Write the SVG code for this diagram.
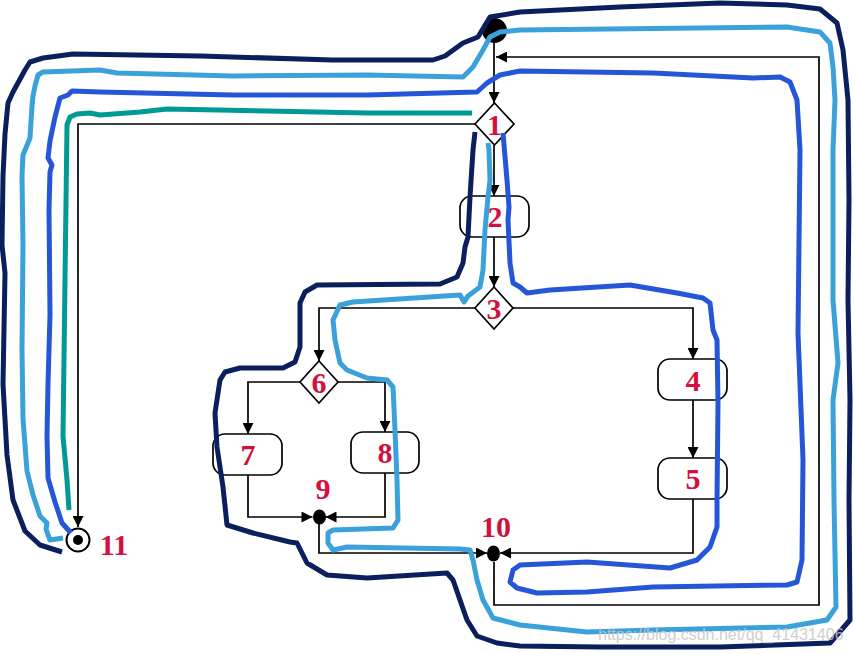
<svg xmlns="http://www.w3.org/2000/svg" width="854" height="654" viewBox="0 0 854 654">
<style>
.ln{fill:none;stroke:#000;stroke-width:1.7}
.nd{fill:#fff;stroke:#000;stroke-width:1.7}
.lb{font-family:"Liberation Serif","Times New Roman",serif;font-weight:bold;font-size:30px;fill:#d3103b;text-anchor:middle}
.pt{fill:none;stroke-width:5;stroke-linejoin:round;stroke-linecap:butt}
.navy{stroke:#0b1f5c}
.sky{stroke:#3aa1db}
.royal{stroke:#2556d8}
.teal{stroke:#009a94}
.wm{font-family:"Liberation Sans",Arial,sans-serif;font-size:16px;fill:#c8c8c8;opacity:0.85}
</style>
<defs>
<marker id="arr" viewBox="0 0 10 10" refX="10" refY="5" markerWidth="12" markerHeight="11" markerUnits="userSpaceOnUse" orient="auto">
<path d="M0,0 L10,5 L0,10 z" fill="#000"/>
</marker>
</defs>
<rect width="854" height="654" fill="#fff"/>
<g id="connectors">
<path class="ln" d="M494,43 V103" marker-end="url(#arr)"/>
<path class="ln" d="M494,145 V196" marker-end="url(#arr)"/>
<path class="ln" d="M494,237 V287" marker-end="url(#arr)"/>
<path class="ln" d="M475,124 H78 V527" marker-end="url(#arr)"/>
<path class="ln" d="M475,308 H319 V361" marker-end="url(#arr)"/>
<path class="ln" d="M513,308 H693 V359" marker-end="url(#arr)"/>
<path class="ln" d="M693,400 V458" marker-end="url(#arr)"/>
<path class="ln" d="M300,382 H248 V434" marker-end="url(#arr)"/>
<path class="ln" d="M338,382 H385 V432" marker-end="url(#arr)"/>
<path class="ln" d="M248,475 V517 H312.5" marker-end="url(#arr)"/>
<path class="ln" d="M385,473 V517 H325.5" marker-end="url(#arr)"/>
<path class="ln" d="M319,524 V553 H487" marker-end="url(#arr)"/>
<path class="ln" d="M693,499 V553 H500" marker-end="url(#arr)"/>
<path class="ln" d="M494,562 V605 H819 V57 H496" marker-end="url(#arr)"/>
</g>
<g id="start"><circle cx="494.5" cy="30.5" r="12.5" fill="#000"/></g>
<g id="n1"><polygon class="nd" points="494.5,103 514,124 494.5,145 475,124"/></g>
<g id="n2"><rect class="nd" x="460" y="196" width="69" height="41" rx="12"/></g>
<g id="n3"><polygon class="nd" points="494,287 513,308 494,329 475,308"/></g>
<g id="n4"><rect class="nd" x="658" y="359" width="69" height="41" rx="12"/></g>
<g id="n5"><rect class="nd" x="658" y="458" width="69" height="41" rx="12"/></g>
<g id="n6"><polygon class="nd" points="319,361 338,382 319,403 300,382"/></g>
<g id="n7"><rect class="nd" x="213" y="434" width="69" height="41" rx="12"/></g>
<g id="n8"><rect class="nd" x="351" y="432" width="68" height="41" rx="12"/></g>
<g id="n9"><ellipse cx="319.5" cy="517" rx="6.5" ry="7.5" fill="#000"/></g>
<g id="n10"><ellipse cx="493.5" cy="553.5" rx="6.5" ry="8" fill="#000"/></g>
<g id="n11"><circle cx="78" cy="540" r="11.5" fill="#fff" stroke="#000" stroke-width="2"/><circle cx="78" cy="540" r="5" fill="#000"/></g>
<g id="paths">
<path class="pt teal" d="M472,113 L367,113 L167,109 L140,112 L100,115 L90,113 L77,114 L70,117 L67,125 L65,280 L63,436 L67,480 L69,510"/>
<path class="pt royal" d="M71,533 L62,523 L55,502 L48,478 L47,436 L48,384 L50,315 L49,210 L50,172 L52,165 L48,158 L50,141 L55,117 L60,98 L68,95 L72,91 L100,92 L233,95 L367,95 L477,92 L487,83 L500,75 L520,71 L653,73 L753,78 L780,77 L790,82 L797,100 L800,150 L798,333 L803,460 L802,560 L797,582 L787,585 L653,587 L587,592 L537,593 L517,588 L510,582 L513,570 L520,565 L587,562 L670,568 L697,560 L710,547 L717,527 L717,500 L718,403 L717,340 L713,330 L710,303 L703,298 L677,293 L630,285 L550,290 L527,293 L520,287 L513,283 L510,263 L508,220 L509,207 L507,180 L503,133"/>
<path class="pt sky" d="M63,538 L50,540 L48,535 L46,529 L47,523 L40,516 L33,495 L27,471 L23,419 L22,349 L23,245 L22,176 L23,155 L30,138 L32,106 L33,96 L35,86 L38,75 L43,72 L100,70 L117,73 L233,76 L367,75 L463,77 L473,67 L483,50 L490,37 L500,32 L520,30 L787,27 L820,32 L830,43 L833,67 L835,100 L833,150 L833,300 L838,363 L833,400 L834,500 L836,607 L827,620 L787,627 L653,630 L587,632 L520,625 L493,618 L483,600 L477,580 L473,560 L470,550 L460,549 L347,547 L333,550 L328,543 L328,533 L333,530 L393,528 L398,520 L397,480 L395,430 L393,387 L387,380 L367,378 L347,370 L340,363 L335,340 L333,320 L340,305 L353,302 L460,295 L464,302 L468,296 L480,287 L483,270 L485,230 L488,197 L490,180 L489,150 L488,143"/>
<path class="pt navy" d="M62,552 L40,545 L25,531 L13,500 L7,455 L3,384 L5,273 L2,245 L3,176 L5,134 L8,103 L13,92 L25,70 L30,62 L43,58 L73,54 L200,56 L333,60 L433,60 L445,56 L463,43 L478,37 L487,22 L490,17 L520,12 L620,7 L720,3 L787,5 L820,9 L837,23 L843,50 L848,100 L849,200 L848,300 L850,400 L849,500 L850,620 L830,643 L720,647 L600,647 L520,646 L497,643 L477,636 L467,620 L460,600 L453,580 L447,573 L367,578 L327,575 L307,563 L297,543 L290,542 L253,533 L227,525 L223,487 L217,447 L215,413 L220,380 L225,372 L240,368 L283,368 L295,362 L300,347 L300,303 L305,292 L317,285 L440,284 L457,277 L463,263 L465,247 L468,237 L470,197 L473,150 L475,132"/>
</g>
<g id="labels">
<text class="lb" x="494.5" y="135">1</text>
<text class="lb" x="495" y="227">2</text>
<text class="lb" x="494" y="319">3</text>
<text class="lb" x="693" y="391">4</text>
<text class="lb" x="693" y="489">5</text>
<text class="lb" x="319" y="393">6</text>
<text class="lb" x="248" y="465">7</text>
<text class="lb" x="385" y="463">8</text>
<text class="lb" x="323" y="499">9</text>
<text class="lb" x="496" y="537">10</text>
<text class="lb" x="114" y="555">11</text>
</g>
<text class="wm" x="598" y="640">https://blog.csdn.net/qq_41431406</text>
</svg>
